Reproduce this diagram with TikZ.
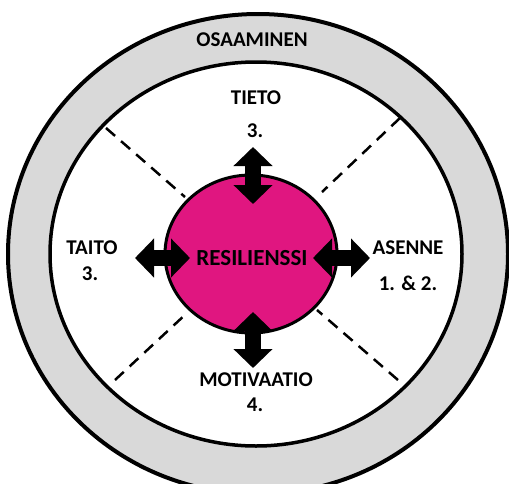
\documentclass[tikz,border=0pt]{standalone}
\usepackage{fontspec}
\setsansfont{Carlito}
\usetikzlibrary{arrows.meta,shapes.geometric,positioning}
\definecolor{ringgray}{RGB}{217,217,217}
\definecolor{resil}{RGB}{224,22,128}

\begin{document}
\begin{tikzpicture}[x=1pt, y=-1pt,
    lbl/.style={font=\sffamily\bfseries\fontsize{21}{24}\selectfont, inner sep=0pt},
    dblarr/.style={{Triangle[width=38pt,length=19pt]}-{Triangle[width=38pt,length=19pt]},
                   line width=16pt},
    sepline/.style={dash pattern=on 12pt off 8pt, line width=2.5pt}]

    \useasboundingbox (0,0) rectangle (509,483);

    % rings
    \node[ellipse, draw, line width=4pt, fill=ringgray,
          minimum width=500pt, minimum height=480pt] (ring) at (258,254) {};
    \node[ellipse, draw, line width=3.5pt, fill=white,
          minimum width=412pt, minimum height=384pt] (inner) at (256,254) {};

    % dashed separators
    \coordinate (tl) at (106,128);
    \coordinate (tr) at (400,118);
    \coordinate (bl) at (115,380);
    \coordinate (br) at (398,380);
    \coordinate (tlin) at (185,197);
    \coordinate (trin) at (322,192);
    \coordinate (blin) at (187,313);
    \coordinate (brin) at (317,310);
    \draw[sepline] (tl) -- (tlin);
    \draw[sepline] (tr) -- (trin);
    \draw[sepline] (bl) -- (blin);
    \draw[sepline] (br) -- (brin);

    % centre
    \node[ellipse, draw, line width=3pt, fill=resil,
          minimum width=172pt, minimum height=158pt] (res) at (251,254) {};
    \node[lbl, font=\sffamily\bfseries\fontsize{23}{26}\selectfont] (resl) at (252,258) {RESILIENSSI};

    % arrows
    \coordinate (up1) at (253,147);
    \coordinate (up2) at (253,204);
    \coordinate (dn1) at (253,312);
    \coordinate (dn2) at (253,368);
    \coordinate (lf1) at (135,258);
    \coordinate (lf2) at (190,258);
    \coordinate (rt1) at (313,258);
    \coordinate (rt2) at (370,258);
    \draw[dblarr] (up1) -- (up2);
    \draw[dblarr] (dn1) -- (dn2);
    \draw[dblarr] (lf1) -- (lf2);
    \draw[dblarr] (rt1) -- (rt2);

    % labels
    \node[lbl] (osa)    at (252,40)  {OSAAMINEN};
    \node[lbl] (tieto)  at (256,98)  {TIETO};
    \node[lbl] (tieton) at (255,131) {3.};
    \node[lbl] (taito)  at (92,248)  {TAITO};
    \node[lbl] (taiton) at (90,274)  {3.};
    \node[lbl] (asenne) at (408,248) {ASENNE};
    \node[lbl] (asennen) at (408,283) {1. \& 2.};
    \node[lbl] (moti)   at (256,380) {MOTIVAATIO};
    \node[lbl] (motin)  at (255,405) {4.};
\end{tikzpicture}
\end{document}
